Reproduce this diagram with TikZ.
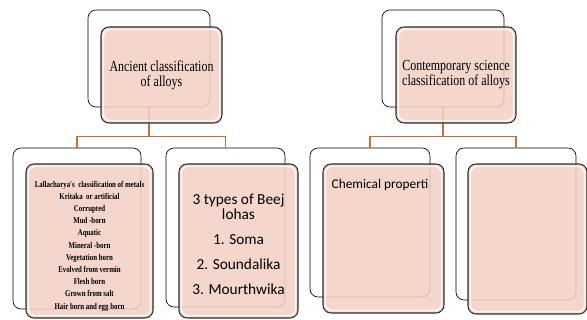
\documentclass[tikz,border=0pt]{standalone}
\usepackage{fontspec}
\usepackage{tikz}
\usetikzlibrary{calc,                 % calculs de coordonnees
           positioning}
\newfontfamily\titlefont[FakeStretch=0.78]{Liberation Serif}
\newfontfamily\bodyfont{Carlito}
\definecolor{boxpink}{RGB}{242,208,197}
\definecolor{linkorange}{RGB}{198,112,58}
\definecolor{edgegray}{RGB}{45,45,45}

\begin{document}
\begin{tikzpicture}[x=0.75pt,y=-0.75pt,
  backbox/.style={draw=black, line width=0.5pt, rounded corners=6pt, inner sep=0pt},
  frontbox/.style={draw=edgegray, line width=0.8pt, fill=boxpink, fill opacity=0.88, text opacity=1, rounded corners=6pt, align=center,
    path picture={\draw[white, line width=1.2pt, opacity=0.8, rounded corners=5pt]
      ([shift={(1.8pt,-1.8pt)}]path picture bounding box.north west) rectangle ([shift={(-1.8pt,1.8pt)}]path picture bounding box.south east);}},
  link/.style={draw=linkorange, line width=0.9pt}]
\useasboundingbox (0,0) rectangle (587,320);
% cadres arriere
\node[backbox, minimum width=91.5pt, minimum height=72.75pt](ancB) at (149,58.5){};
\node[backbox, minimum width=91.5pt, minimum height=72.75pt](conB) at (443,58.5){};
\node[backbox, minimum width=96pt, minimum height=120.75pt](lalB) at (77,228.5){};
\node[backbox, minimum width=89.25pt, minimum height=119.25pt](beejB) at (225.5,227.5){};
\node[backbox, minimum width=90pt, minimum height=111.75pt](chemB) at (370,222.5){};
\node[backbox, minimum width=90pt, minimum height=114pt](emptyB) at (516,224){};
% liaisons
\draw[link](ancB.south)--++(0,29)-|(lalB.north);
\draw[link](ancB.south)--++(0,29)-|(beejB.north);
\draw[link](conB.south)--++(0,29)-|(chemB.north);
\draw[link](conB.south)--++(0,29)-|(emptyB.north);
% cadres avant
\node[frontbox, minimum width=90.75pt, minimum height=72pt, font=\titlefont\fontsize{11.5}{11.25}\selectfont](ancF) at (161.5,75){Ancient classification\\of alloys};
\node[frontbox, minimum width=90pt, minimum height=72pt, font=\titlefont\fontsize{11.5}{11.25}\selectfont](conF) at (456,75){Contemporary science\\classification of alloys};
\node[frontbox, minimum width=95.25pt, minimum height=115.5pt, font=\titlefont\bfseries\fontsize{6.6}{9.15}\selectfont](lalF) at (89.5,241){\raisebox{0pt}[0pt][0pt]{}\\[3pt]Lallacharya's\ \ classification of metals\\Kritaka\ \ or artificial\\Corrupted\\Mud -born\\Aquatic\\Mineral -born\\Vegetation born\\Evolved from vermin\\Flesh born\\Grown from salt\\Hair born and egg born};
\node[frontbox, minimum width=89.25pt, minimum height=115.5pt, font=\bodyfont\fontsize{11.5}{11.25}\selectfont](beejF) at (238.5,241){\raisebox{0pt}[0pt][0pt]{}\\[1pt]3 types of Beej\\lohas\\[7.5pt]1. Soma\\[7.5pt]2. Soundalika\\[7.5pt]3. Mourthwika};
\node[frontbox, minimum width=90.75pt, minimum height=111.75pt](chemF) at (383.5,238.5){};
\node[frontbox, minimum width=89.25pt, minimum height=112.5pt](emptyF) at (527.5,239){};
\node[anchor=west, inner sep=0pt, font=\bodyfont\fontsize{10}{12}\selectfont](chemT) at ($(chemF.north west)+(9,21)$){Chemical properti};
\end{tikzpicture}
\end{document}
